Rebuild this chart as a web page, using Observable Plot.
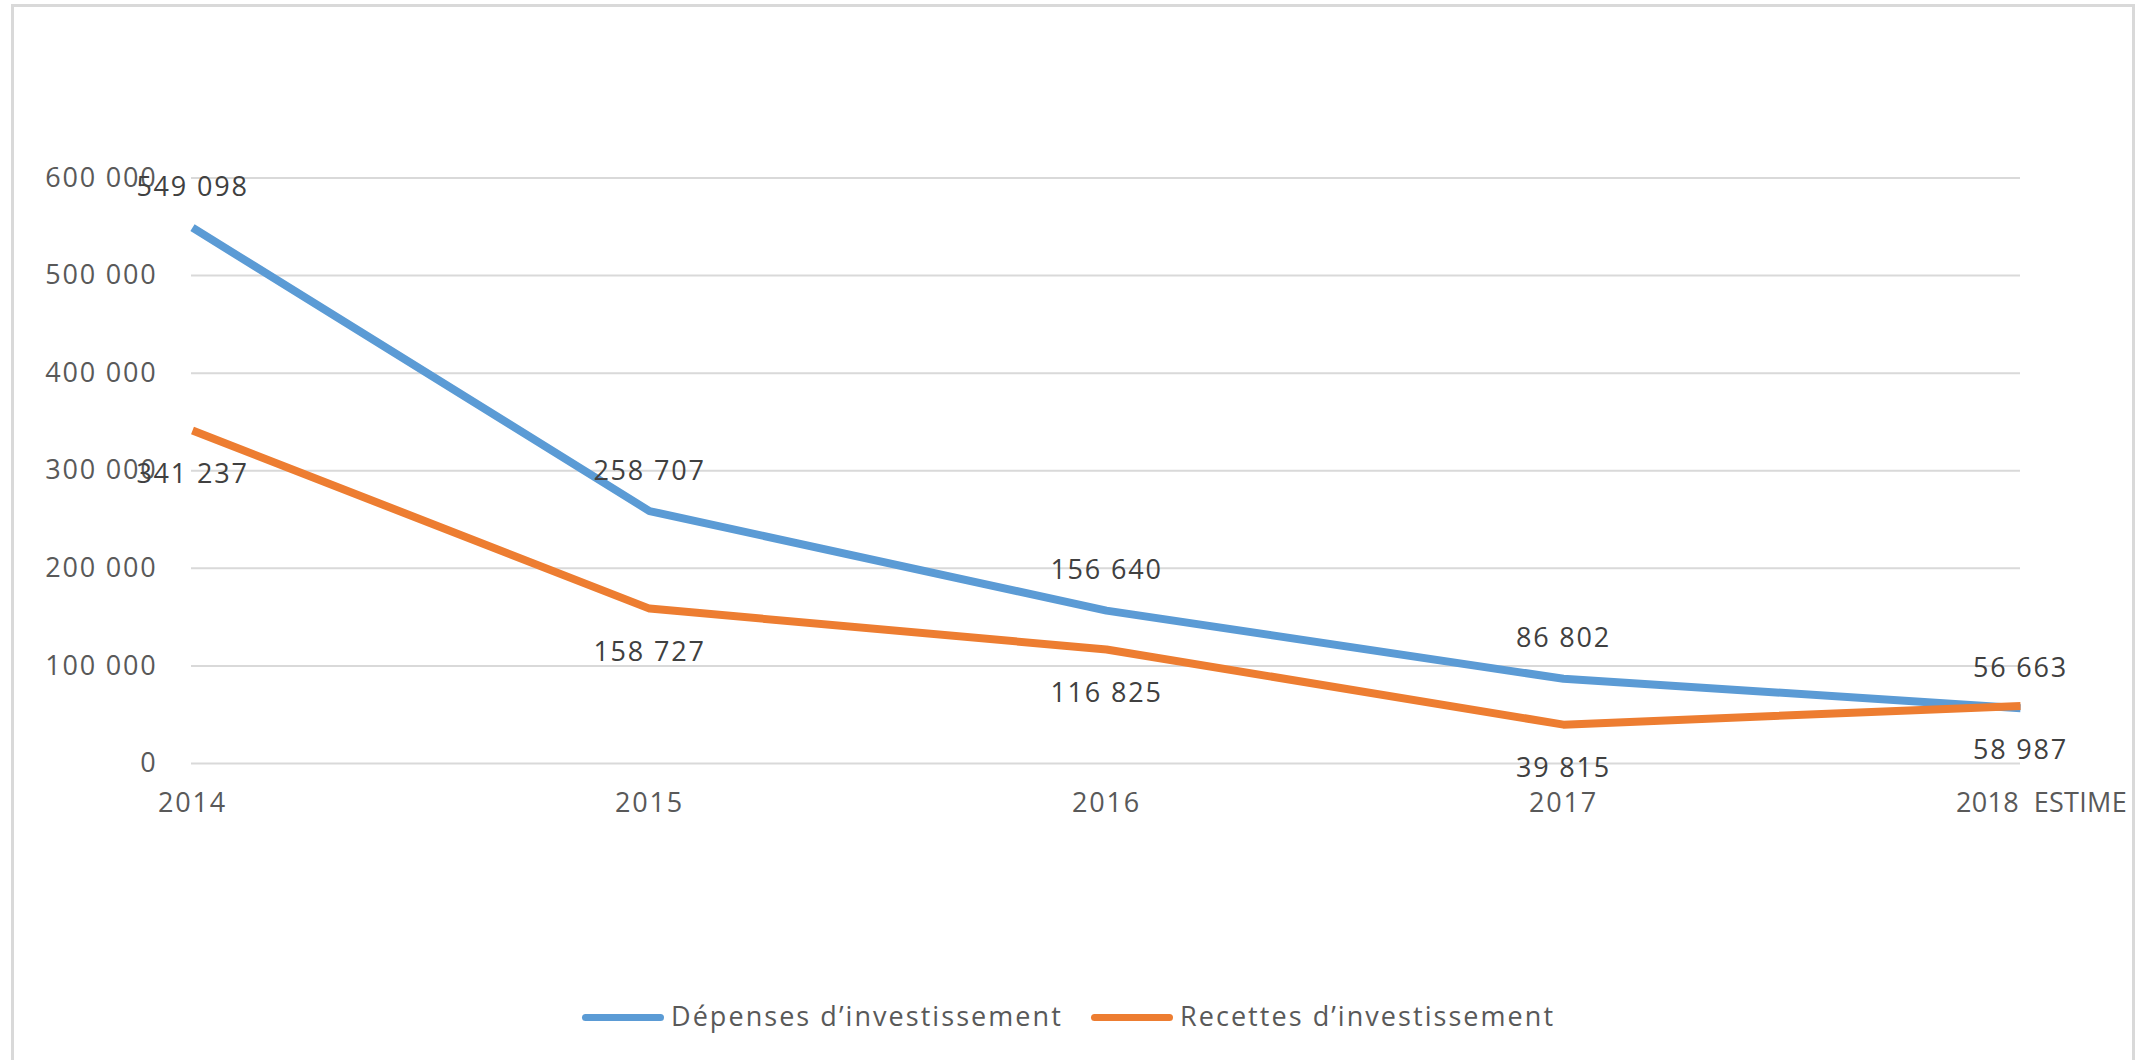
<!DOCTYPE html>
<html>
<head>
<meta charset="utf-8">
<script src="https://cdn.jsdelivr.net/npm/d3@7"></script>
<script src="https://cdn.jsdelivr.net/npm/@observablehq/plot@0.6"></script>
<style>
  html, body { margin: 0; padding: 0; background: #fff; overflow: hidden; }
  #wrap { position: relative; width: 2139px; height: 1060px; font-family: "Open Sans", sans-serif; }
  #frame { position: absolute; left: 11px; top: 4px; width: 2124px; height: 1100px; border: 3px solid #D9D9D9; box-sizing: border-box; }
  #chart { position: absolute; left: 0; top: 0; }
  .lg-swatch { position: absolute; height: 7px; border-radius: 3.5px; }
  .lg-text { position: absolute; font-size: 27px; line-height: 30px; color: #595959; letter-spacing: 2.05px; white-space: nowrap; }
</style>
</head>
<body>
<div id="wrap">
  <div id="frame"></div>
  <div id="chart"></div>
  <div id="legend"></div>
</div>
<script>
const categories = ["2014", "2015", "2016", "2017", "2018"];
const xLabels = ["2014", "2015", "2016", "2017", "2018\u00a0\u00a0ESTIME"];
const depenses = [549098, 258707, 156640, 86802, 56663];
const recettes = [341237, 158727, 116825, 39815, 58987];
const yTicks = [0, 100000, 200000, 300000, 400000, 500000, 600000];
const seriesNames = ["Dépenses d\u2019investissement", "Recettes d\u2019investissement"];
const seriesColors = ["#5B9BD5", "#ED7D31"];

const fmt = d => d3.format(",")(d).replace(/,/g, " ");

const dep = categories.map((c, i) => ({cat: c, value: depenses[i]}));
const rec = categories.map((c, i) => ({cat: c, value: recettes[i]}));
const xl = categories.map((c, i) => ({cat: c, label: xLabels[i], last: i === categories.length - 1}));

const chart = Plot.plot({
  width: 2139,
  height: 960,
  marginLeft: 191,
  marginRight: 119,
  marginTop: 177.5,
  marginBottom: 197,
  x: {type: "point", domain: categories, padding: 0, axis: null},
  y: {domain: [0, 600000], axis: null},
  style: {fontFamily: "'Open Sans', sans-serif", fontSize: "27px", letterSpacing: "1.8px", background: "transparent", overflow: "visible"},
  marks: [
    Plot.gridY(yTicks, {stroke: "#D9D9D9", strokeOpacity: 1, strokeWidth: 2}),
    Plot.axisY(yTicks, {tickSize: 0, tickPadding: 34, tickFormat: fmt, label: null, fill: "#595959", fontSize: 27}),
    Plot.text(xl.filter(d => !d.last), {x: "cat", y: () => 0, text: "label", dy: 40, lineAnchor: "middle", fill: "#595959", fontSize: 27}),
    Plot.text(xl.filter(d => d.last), {x: "cat", y: () => 0, text: "label", dy: 40, dx: 21, lineAnchor: "middle", fill: "#595959", fontSize: 27, className: "last-label"}),
    Plot.line(dep, {x: "cat", y: "value", stroke: seriesColors[0], strokeWidth: 8, strokeLinejoin: "round", strokeLinecap: "butt"}),
    Plot.line(rec, {x: "cat", y: "value", stroke: seriesColors[1], strokeWidth: 8, strokeLinejoin: "round", strokeLinecap: "butt"}),
    Plot.text(dep, {x: "cat", y: "value", text: d => fmt(d.value), dy: -40, lineAnchor: "middle", fill: "#404040", fontSize: 27}),
    Plot.text(rec, {x: "cat", y: "value", text: d => fmt(d.value), dy: 44, lineAnchor: "middle", fill: "#404040", fontSize: 27})
  ]
});
chart.querySelectorAll(".last-label text").forEach(t => t.style.letterSpacing = "0.3px");
document.getElementById("chart").appendChild(chart);

// Legend below the plot
const legend = document.getElementById("legend");
const swatchX = [582, 1091];
const textX = [671, 1180];
seriesNames.forEach((name, i) => {
  const sw = document.createElement("div");
  sw.className = "lg-swatch";
  sw.style.left = swatchX[i] + "px";
  sw.style.top = "1013.5px";
  sw.style.width = "82px";
  sw.style.background = seriesColors[i];
  legend.appendChild(sw);
  const tx = document.createElement("div");
  tx.className = "lg-text";
  tx.style.left = textX[i] + "px";
  tx.style.top = "1001px";
  tx.textContent = name;
  legend.appendChild(tx);
});
</script>
</body>
</html>
